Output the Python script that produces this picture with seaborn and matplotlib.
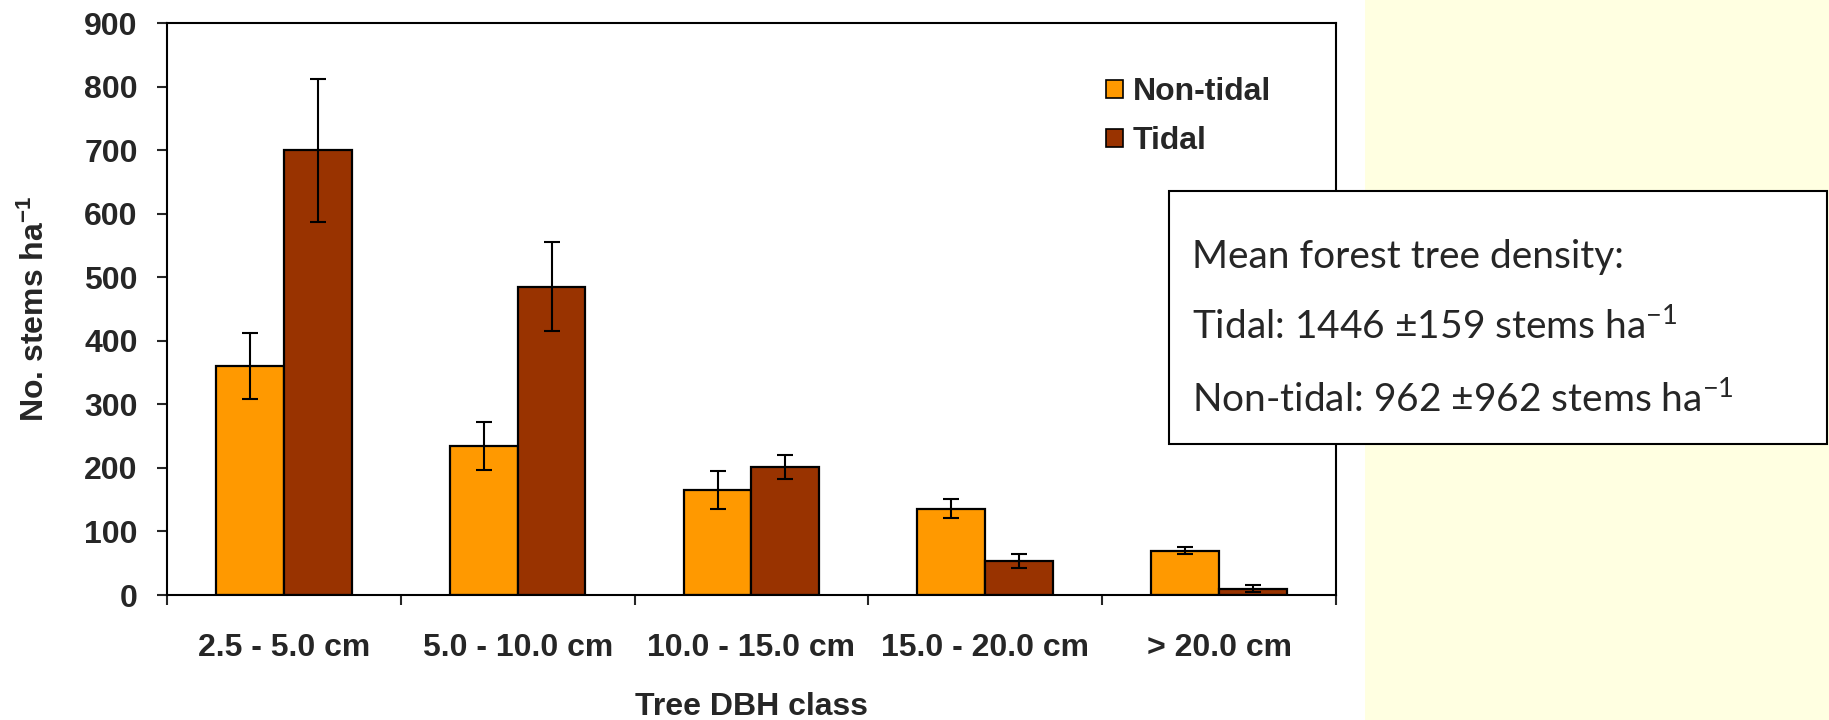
import pandas as pd
import matplotlib
matplotlib.use("Agg")
import matplotlib.pyplot as plt
import seaborn as sns
from matplotlib.patches import Rectangle, Patch

# DBH classes and mean stem density (+/- SE)
dbh_classes = ["2.5 - 5.0 cm", "5.0 - 10.0 cm", "10.0 - 15.0 cm", "15.0 - 20.0 cm", "> 20.0 cm"]
sites = ["Non-tidal", "Tidal"]
non_tidal = [360, 235, 166, 136, 70]
non_tidal_se = [52, 38, 30, 15, 6]
tidal = [700, 485, 202, 53, 10]
tidal_se = [112, 70, 19, 11, 6]
site_colors = ["#FF9900", "#993300"]

box_lines = [
    "Mean forest tree density:",
    "Tidal: 1446 \u00b1159 stems ha$^{-1}$",
    "Non-tidal: 962 \u00b1962 stems ha$^{-1}$",
]

df = pd.DataFrame({
    "dbh": dbh_classes * 2,
    "site": [sites[0]] * len(dbh_classes) + [sites[1]] * len(dbh_classes),
    "stems": non_tidal + tidal,
    "se": non_tidal_se + tidal_se,
})

sns.set_style("ticks")
plt.rcParams["font.family"] = ["Liberation Sans", "DejaVu Sans"]
plt.rcParams["mathtext.default"] = "regular"

fig = plt.figure(figsize=(18.29, 7.2), dpi=100)
fig.patch.set_facecolor("white")

# pale yellow slide background on the right
fig.add_artist(Rectangle((0.7463, 0), 0.2537, 1, transform=fig.transFigure,
                         facecolor="#FFFFE1", edgecolor="none", zorder=-5))

ax = fig.add_axes([0.0913, 0.1736, 0.6391, 0.794])
sns.barplot(data=df, x="dbh", y="stems", hue="site", hue_order=sites,
            order=dbh_classes, palette=site_colors, saturation=1,
            width=0.58, edgecolor="black", linewidth=1.6,
            errorbar=None, legend=False, ax=ax)

# error bars on top of each bar
for cont, lvl in zip(ax.containers, sites):
    sub = df[df["site"] == lvl]
    xs = [b.get_x() + b.get_width() / 2 for b in cont]
    ax.errorbar(xs, sub["stems"].values, yerr=sub["se"].values, fmt="none",
                ecolor="black", elinewidth=1.5, capsize=5.5, capthick=1.5, zorder=5)

ax.set_xlim(-0.5, len(dbh_classes) - 0.5)
ax.set_ylim(0, 900)
ax.set_yticks(range(0, 901, 100))
ax.set_xticks(range(len(dbh_classes)))
ax.set_xticklabels(dbh_classes, fontsize=23, fontweight="bold")
ax.set_xticks([i - 0.5 for i in range(len(dbh_classes) + 1)], minor=True)
ax.tick_params(axis="x", which="major", length=0, pad=27)
ax.tick_params(axis="x", which="minor", length=7, width=1.5, direction="out")
ax.tick_params(axis="y", length=7, width=1.5, direction="out", pad=14, labelsize=23)
for lab in ax.get_yticklabels():
    lab.set_fontweight("bold")

for sp in ax.spines.values():
    sp.set_visible(True)
    sp.set_linewidth(1.5)
    sp.set_color("black")

ax.set_xlabel("Tree DBH class", fontsize=23, fontweight="bold", labelpad=21)
ax.set_ylabel("No. stems ha$^{-1}$", fontsize=23, fontweight="bold", labelpad=24)

handles = [Patch(facecolor=c, edgecolor="black", linewidth=1.2) for c in site_colors]
ax.legend(handles, sites, loc="upper left", bbox_to_anchor=(0.779, 0.956),
          frameon=False, handlelength=0.52, handleheight=0.52, handletextpad=0.3,
          labelspacing=0.6, prop={"weight": "bold", "size": 23})

# summary box
fig.add_artist(Rectangle((0.6393, 0.3833), 0.3597, 0.3514, transform=fig.transFigure,
                         facecolor="white", edgecolor="black", linewidth=1.5, zorder=3))
for txt, yy in zip(box_lines, [0.6278, 0.5292, 0.4278]):
    fig.text(0.6517, yy, txt, fontsize=28, family=["Lato", "DejaVu Sans"],
             va="baseline", ha="left", zorder=4)

fig.savefig("out.png", dpi=100)
